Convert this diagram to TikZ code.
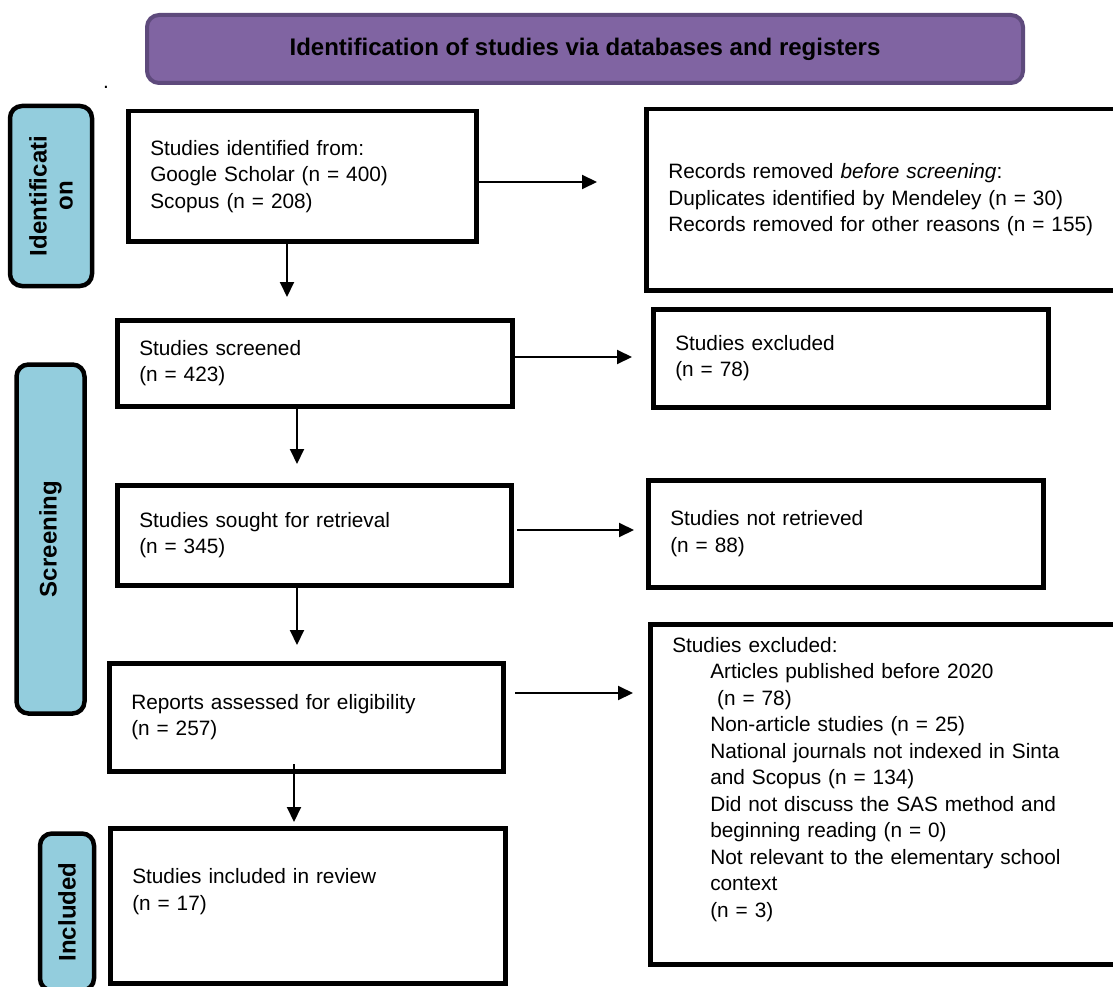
\documentclass[tikz,border=0pt]{standalone}
\usepackage{fontspec}
\setmainfont{Liberation Sans}
\usetikzlibrary{arrows.meta}

\definecolor{viola}{HTML}{8064A2}
\definecolor{violascuro}{HTML}{5E4A7C}
\definecolor{azzurro}{HTML}{93CDDD}

\newcommand{\rientro}{\hspace*{38pt}}

\tikzset{
    riquadro/.style={draw, line width=4.5pt, anchor=north west, align=left,
        inner xsep=22pt, inner ysep=0pt, font=\fontsize{20.8}{26.5}\selectfont},
    fase/.style={draw, line width=4.5pt, fill=azzurro, rounded corners=12pt,
        rotate=90, align=center, inner sep=0pt, font=\fontsize{24}{26}\selectfont\bfseries},
    freccia/.style={line width=2pt, -{Triangle[length=15pt,width=14pt]}}
}

\begin{document}
\begin{tikzpicture}[x=1pt, y=-1pt]
        \useasboundingbox (0,0) rectangle (1113,987);
        \clip (0,0) rectangle (1113,987);

        % Titolo
        \node (titolo) at (585,49) [draw=violascuro, line width=4pt, fill=viola, rounded corners=12pt,
            minimum width=876pt, minimum height=68pt, font=\fontsize{24}{26}\selectfont\bfseries]
            {Identification of studies via databases and registers};
        \node (punto) at (106,89) [anchor=base, inner sep=0pt, font=\fontsize{20.8}{26.5}\selectfont] {.};

        % Fasi
        \node (fidentif) at (51,196) [fase, minimum width=180pt, minimum height=82pt] {Identificati\\on};
        \node (fscreen) at (50.5,539) [fase, minimum width=349pt, minimum height=68pt] {Screening};
        \node (fincl) at (67,912) [fase, minimum width=157pt, minimum height=54pt] {Included};

        % Riquadri
        \node (ident) at (126,109) [riquadro, minimum width=348pt, minimum height=130pt, text width=304pt]
            {Studies identified from:\\Google Scholar (n = 400)\\Scopus (n = 208)};
        \node (rimossi) at (644,107) [riquadro, minimum width=520pt, minimum height=181pt, text width=476pt]
            {Records removed \textit{before screening}:\\Duplicates identified by Mendeley (n = 30)\\Records removed for other reasons (n = 155)};
        \node (screened) at (115,318) [riquadro, minimum width=395pt, minimum height=86pt, text width=351pt]
            {Studies screened\\(n = 423)};
        \node (escl) at (651,307) [riquadro, minimum width=395pt, minimum height=98pt, text width=351pt]
            {Studies excluded\\(n = 78)};
        \node (sought) at (115,483) [riquadro, minimum width=394pt, minimum height=100pt, text width=350pt]
            {Studies sought for retrieval\\(n = 345)};
        \node (nonrecup) at (646,478) [riquadro, minimum width=395pt, minimum height=107pt, text width=351pt]
            {Studies not retrieved\\(n = 88)};
        \node (assessed) at (107,661) [riquadro, minimum width=394pt, minimum height=108pt, text width=350pt]
            {Reports assessed for eligibility\\(n = 257)};
        \node (esclusi) at (648,622) [riquadro, minimum width=478pt, minimum height=340pt, text width=434pt]
            {Studies excluded:\\
            \rientro Articles published before 2020\\
            \rientro~(n = 78)\\
            \rientro Non-article studies (n = 25)\\
            \rientro National journals not indexed in Sinta\\
            \rientro and Scopus (n = 134)\\
            \rientro Did not discuss the SAS method and\\
            \rientro beginning reading (n = 0)\\
            \rientro Not relevant to the elementary school\\
            \rientro context\\
            \rientro (n = 3)\\[8pt]\mbox{}};
        \node (inclusi) at (108,826) [riquadro, minimum width=395pt, minimum height=155pt, text width=351pt]
            {Studies included in review\\(n = 17)\\[6pt]\mbox{}};

        % Frecce orizzontali
        \coordinate (p1) at (597,182);
        \draw[freccia] (ident.east |- p1) -- (p1);
        \coordinate (p2) at (632,357);
        \draw[freccia] (screened.east |- p2) -- (p2);
        \coordinate (q3) at (517,530);
        \coordinate (p3) at (634,530);
        \draw[freccia] (q3) -- (p3);
        \coordinate (q4) at (515,693);
        \coordinate (p4) at (633,693);
        \draw[freccia] (q4) -- (p4);

        % Frecce verticali
        \coordinate (p5) at (287,297);
        \draw[freccia] (p5 |- ident.south) -- (p5);
        \coordinate (p6) at (297,464);
        \draw[freccia] (p6 |- screened.south) -- (p6);
        \coordinate (p7) at (297,645);
        \draw[freccia] (p7 |- sought.south) -- (p7);
        \coordinate (q8) at (294,764);
        \coordinate (p8) at (294,822);
        \draw[freccia] (q8) -- (p8);

    \end{tikzpicture}
\end{document}
